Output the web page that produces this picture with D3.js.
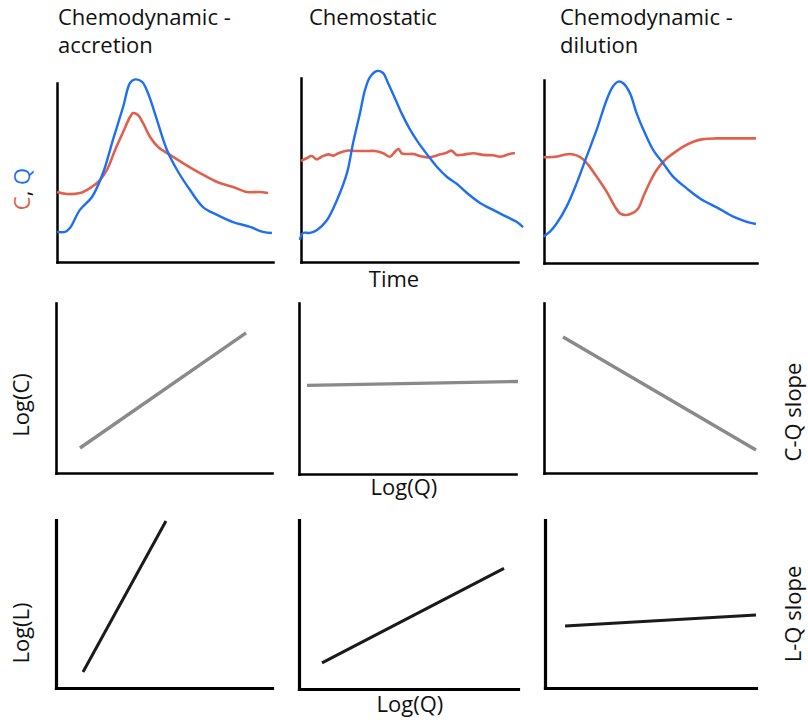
<!DOCTYPE html>
<html>
<head>
<meta charset="utf-8">
<script src="https://cdn.jsdelivr.net/npm/d3@7"></script>
<style>
  body { margin: 0; background: #fff; }
  text { font-family: "Open Sans", sans-serif; fill: #111; }
</style>
</head>
<body>
<svg id="chart" width="808" height="724"></svg>
<script>
// column titles
var titles = [["Chemodynamic -", "accretion"], ["Chemostatic"], ["Chemodynamic -", "dilution"]];

// hydrograph sketches: [time, value] on a 0-100 scale
var accretionQ = [[0,16.8],[3.7,16.8],[6,19],[10.6,29.1],[16.2,36.3],[21.3,49.7],[25.9,68.2],[30.6,86.6],[33.8,100],[36.1,102],[39.4,100.6],[42.1,94.4],[46.3,79.3],[50.9,62.6],[55.6,51.4],[61.6,40.2],[67.6,30.7],[74.1,26.3],[81.5,22.3],[89.4,19.6],[95.4,16.8],[99.5,16.2]];
var accretionC = [[0,39.1],[4.6,38],[10.6,38.5],[15.3,41.3],[19.9,45.8],[23.1,51.4],[26.9,62.6],[30.6,72.6],[33.8,81],[35.2,83.2],[37.5,82.1],[39.8,77.7],[43.1,69.8],[46.8,64.2],[52.3,59.8],[58.3,55.3],[66.2,49.7],[74.1,44.7],[81.5,41.9],[88,39.1],[94,39.1],[97.7,38.5]];
var chemostaticQ = [[-0.5,12],[0.9,15.8],[4.1,15.8],[7.4,17.4],[12,22.8],[16.6,33.7],[21.2,48.4],[24,64.7],[27.2,81],[29.5,93.5],[31.8,100.5],[35,103.8],[37.8,102.7],[40.1,97.3],[43.3,89],[46.5,80.5],[50,72.5],[54,65],[58.1,58.5],[62.7,51.6],[67.3,46.2],[71.9,42.4],[76.5,37.5],[82.5,32.1],[88.5,28.3],[94.9,24.5],[99.5,21.7],[102.3,19]];
var chemostaticC = [[0,54.9],[2.6,56.4],[4.9,57.6],[7.2,55.8],[9.5,57.2],[12.6,58.5],[14.9,57.8],[17.2,59.1],[21,60.5],[25.6,60.3],[30.2,60.3],[34.1,60.3],[37.9,59.1],[41,57.2],[43.3,59.9],[44.9,61.4],[46.4,59.1],[48.7,58.7],[51.8,58.7],[54.8,57.6],[59.4,56.9],[64.1,58.5],[67.1,59.4],[69.4,60.5],[71.7,58.2],[75.6,58.5],[79.4,59.1],[84,58.2],[88.6,58],[91.7,57.2],[94.8,58.2],[97.8,59.1],[98.6,59.1]];
var dilutionQ = [[-0.3,14.4],[2.8,17.1],[6,21.7],[10.6,30.8],[15.3,43.5],[20,58.1],[24.7,72.7],[29.4,89.1],[32.5,96.7],[34.9,99.1],[37.2,98.2],[40.4,92.7],[43.5,81.8],[47.4,70.9],[51.3,61.7],[56,54.4],[60.7,47.1],[67,40.8],[73.2,35.3],[81.1,30.4],[88.9,25.3],[95.2,22.5],[99.5,21.3]];
var dilutionC = [[-0.3,57.8],[5.2,58.1],[9.1,59],[12.2,59.6],[15.3,58.8],[18.5,56.6],[20.8,53.6],[24.7,47.2],[29.4,39],[33.3,30.8],[35.7,27.1],[38.8,26.2],[42,27.5],[44.3,29.9],[46.6,36.2],[49.8,44.4],[52.9,50.8],[56.8,56.3],[60.7,59.9],[65.4,63.6],[70.1,66.3],[74.8,67.7],[81.1,68.1],[87.3,68.1],[93.6,68.1],[99.5,68.1]];

// log-log relations: endpoints [logQ, value] on a 0-100 scale
var cqLines = [[[11.1,14.7],[88,82.4]], [[3.7,51.8],[100.9,54.1]], [[9,80],[100,13.5]]];
var lqLines = [[[12.5,9.5],[50.9,99.4]], [[10.5,15.5],[93.6,71.4]], [[9.5,36.9],[100,43.5]]];

var rowLabels = ["Log(C)", "Log(L)"];
var slopeLabels = ["C-Q slope", "L-Q slope"];

// panel frames in pixels
var frames = [
  [{x0:57,x1:273,y0:83,y1:262},{x0:301,x1:518,y0:78,y1:262},{x0:544,x1:757,y0:80,y1:263}],
  [{x0:56,x1:272,y0:303,y1:473},{x0:299,x1:516,y0:303,y1:474},{x0:544,x1:756,y0:303,y1:473}],
  [{x0:56,x1:272,y0:520,y1:688},{x0:299,x1:518,y0:520,y1:689},{x0:545,x1:756,y0:520,y1:688}]
];

var blue = "#1f6ff2", red = "#e0604e", grey = "#8a8a8a", black = "#1a1a1a";
var svg = d3.select("#chart");
svg.append("rect").attr("width", 808).attr("height", 724).attr("fill", "#fff");

function panel(f, axisWidth) {
  var x = d3.scaleLinear().domain([0, 100]).range([f.x0, f.x1]);
  var y = d3.scaleLinear().domain([0, 100]).range([f.y1, f.y0]);
  var g = svg.append("g");
  g.append("g").attr("transform", "translate(0," + f.y1 + ")")
    .call(d3.axisBottom(x).ticks(0).tickSizeOuter(0));
  g.append("g").attr("transform", "translate(" + f.x0 + ",0)")
    .call(d3.axisLeft(y).ticks(0).tickSizeOuter(0));
  g.selectAll(".domain").attr("stroke", "#000").attr("stroke-width", axisWidth)
    .attr("stroke-linecap", "square");
  return {g: g, x: x, y: y};
}

var timeSeries = [[accretionQ, accretionC], [chemostaticQ, chemostaticC], [dilutionQ, dilutionC]];

timeSeries.forEach(function(pair, i) {
  var p = panel(frames[0][i], 2.5);
  var line = d3.line().x(function(d) { return p.x(d[0]); }).y(function(d) { return p.y(d[1]); })
    .curve(d3.curveCatmullRom);
  p.g.append("path").datum(pair[1]).attr("d", line).attr("fill", "none")
    .attr("stroke", red).attr("stroke-width", 2.6).attr("stroke-linejoin", "round");
  p.g.append("path").datum(pair[0]).attr("d", line).attr("fill", "none")
    .attr("stroke", blue).attr("stroke-width", 2.4).attr("stroke-linejoin", "round");
});

[cqLines, lqLines].forEach(function(rowLines, r) {
  rowLines.forEach(function(pts, i) {
    var p = panel(frames[r + 1][i], r == 1 ? 3.2 : 2.6);
    p.g.append("path").datum(pts)
      .attr("d", d3.line().x(function(d) { return p.x(d[0]); }).y(function(d) { return p.y(d[1]); }))
      .attr("fill", "none")
      .attr("stroke", r == 0 ? grey : black)
      .attr("stroke-width", r == 0 ? 3.4 : 3);
  });
});

// titles
var titleX = [58, 309, 560];
titles.forEach(function(t, i) {
  t.forEach(function(line, j) {
    svg.append("text").attr("x", titleX[i]).attr("y", 25 + j * 28)
      .attr("font-size", 22).text(line);
  });
});

svg.append("text").attr("x", 394).attr("y", 287).attr("text-anchor", "middle")
  .attr("font-size", 22).text("Time");
svg.append("text").attr("x", 404).attr("y", 495).attr("text-anchor", "middle")
  .attr("font-size", 22).text("Log(Q)");
svg.append("text").attr("x", 410).attr("y", 712).attr("text-anchor", "middle")
  .attr("font-size", 22).text("Log(Q)");

// y labels
var cq = svg.append("text").attr("transform", "translate(30,189) rotate(-90)")
  .attr("text-anchor", "middle").attr("font-size", 22);
cq.append("tspan").attr("fill", red).text("C");
cq.append("tspan").attr("fill", "#111").text(", ");
cq.append("tspan").attr("fill", blue).text("Q");

var rowLabelY = [405, 633];
rowLabels.forEach(function(l, i) {
  svg.append("text").attr("transform", "translate(29," + rowLabelY[i] + ") rotate(-90)")
    .attr("text-anchor", "middle").attr("font-size", 22).text(l);
});
var slopeY = [412, 614];
slopeLabels.forEach(function(l, i) {
  svg.append("text").attr("transform", "translate(801," + slopeY[i] + ") rotate(-90)")
    .attr("text-anchor", "middle").attr("font-size", 22).text(l);
});
</script>
</body>
</html>
